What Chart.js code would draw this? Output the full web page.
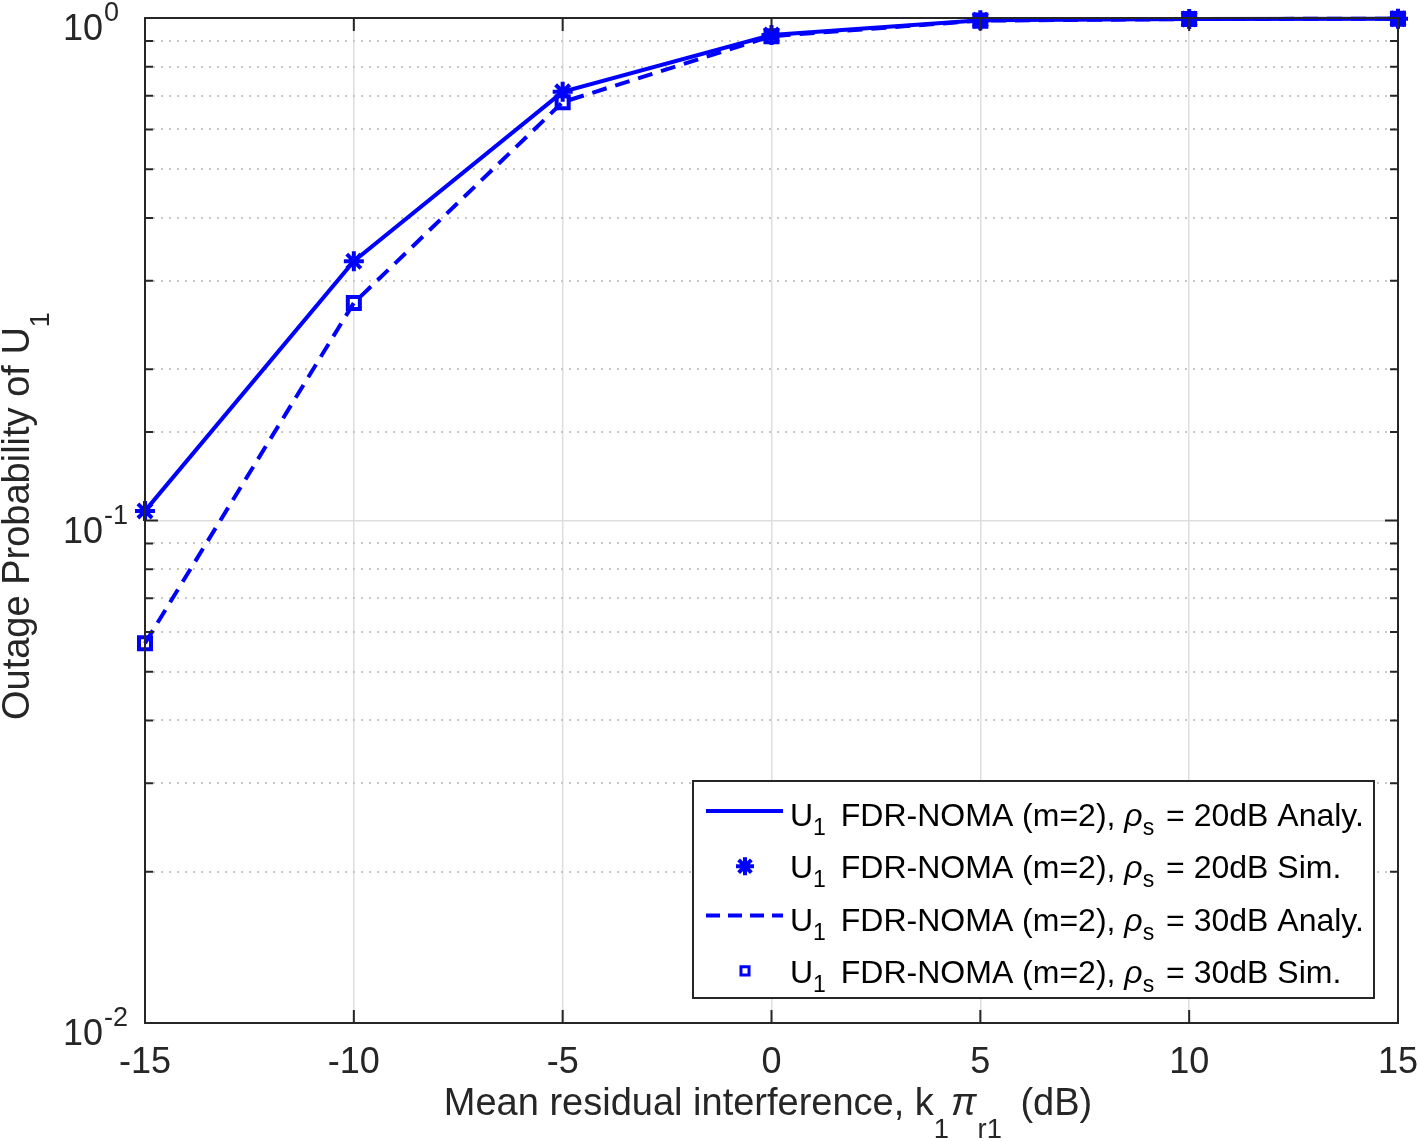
<!DOCTYPE html>
<html>
<head>
<meta charset="utf-8">
<script src="https://cdn.jsdelivr.net/npm/chart.js@4/dist/chart.umd.min.js"></script>
<style>
  html, body { margin: 0; padding: 0; background: #fff; }
  #wrap { width: 1418px; height: 1141px; }
</style>
</head>
<body>
<div id="wrap"><canvas id="chart" width="1418" height="1141"></canvas></div>
<script>
// valori
const xValues = [-15, -10, -5, 0, 5, 10, 15];
const analy20 = [0.1045, 0.328, 0.713, 0.925, 0.99, 0.995, 0.997];
const sim20 = [0.1045, 0.328, 0.713, 0.925, 0.99, 0.995, 0.997];
const analy30 = [0.057, 0.271, 0.68, 0.92, 0.988, 0.995, 0.997];
const sim30 = [0.057, 0.271, 0.68, 0.92, 0.988, 0.995, 0.997];
const xTicks = [-15, -10, -5, 0, 5, 10, 15];
const yDecades = [0.01, 0.1, 1];
const yDecadeExp = ['-2', '-1', '0'];

const blue = '#0000ff';
const ink = '#262626';
const font = '"Liberation Sans", Arial, sans-serif';

const pts = arr => arr.map((v, i) => ({ x: xValues[i], y: v }));
const isMajor = v => Math.abs(Math.log10(v) - Math.round(Math.log10(v))) < 1e-6;

// testo con pedici / corsivo, y = linea di base
function richWidth(ctx, parts, size) {
    let w = 0;
    parts.forEach(p => {
        const s = p.sub ? size * 0.72 : size;
        ctx.font = (p.italic ? 'italic ' : '') + s + 'px ' + font;
        w += ctx.measureText(p.t).width + (p.gap || 0);
    });
    return w;
}
function drawRich(ctx, x, y, parts, size, subDrop) {
    ctx.textBaseline = 'alphabetic';
    ctx.textAlign = 'left';
    parts.forEach(p => {
        const s = p.sub ? size * 0.72 : size;
        ctx.font = (p.italic ? 'italic ' : '') + s + 'px ' + font;
        ctx.fillText(p.t, x, y + (p.sub ? subDrop : 0));
        x += ctx.measureText(p.t).width + (p.gap || 0);
    });
}

const legendItems = [
    { kind: 'line', dash: [], label: '20dB Analy.' },
    { kind: 'star', label: '20dB Sim.' },
    { kind: 'line', dash: [14, 8], label: '30dB Analy.' },
    { kind: 'rect', label: '30dB Sim.' }
];

const decorPlugin = {
    id: 'decor',
    afterDraw(chart) {
        const ctx = chart.ctx;
        const a = chart.chartArea;
        const xs = chart.scales.x, ys = chart.scales.y;
        ctx.save();
        ctx.fillStyle = ink;
        ctx.strokeStyle = ink;
        ctx.lineWidth = 2;
        ctx.setLineDash([]);

        // ticks interni
        ctx.beginPath();
        xTicks.forEach(t => {
            const px = xs.getPixelForValue(t);
            ctx.moveTo(px, a.bottom); ctx.lineTo(px, a.bottom - 13);
            ctx.moveTo(px, a.top); ctx.lineTo(px, a.top + 13);
        });
        ys.ticks.forEach(t => {
            const py = ys.getPixelForValue(t.value);
            const len = isMajor(t.value) ? 13 : 8;
            ctx.moveTo(a.left, py); ctx.lineTo(a.left + len, py);
            ctx.moveTo(a.right, py); ctx.lineTo(a.right - len, py);
        });
        ctx.stroke();
        ctx.strokeRect(a.left, a.top, a.right - a.left, a.bottom - a.top);

        // etichette asse x
        ctx.font = '36px ' + font;
        ctx.textAlign = 'center';
        ctx.textBaseline = 'alphabetic';
        xTicks.forEach(t => ctx.fillText(String(t), xs.getPixelForValue(t), a.bottom + 50));

        // etichette asse y (10^n)
        yDecades.forEach((v, i) => {
            const py = ys.getPixelForValue(v);
            ctx.font = '27px ' + font;
            ctx.textAlign = 'left';
            ctx.fillText(yDecadeExp[i], 104, py + 3);
            ctx.font = '36px ' + font;
            ctx.textAlign = 'right';
            ctx.fillText('10', 103, py + 22);
        });

        // titolo asse x
        const xt = [
            { t: 'Mean residual interference, k' }, { t: '1', sub: true, gap: 2 },
            { t: '\u03c0', italic: true, gap: 1 }, { t: 'r1', sub: true, gap: 8 }, { t: ' (dB)' }
        ];
        const xw = richWidth(ctx, xt, 38);
        ctx.fillStyle = ink;
        drawRich(ctx, 768 - xw / 2, 1115, xt, 38, 23);

        // titolo asse y
        ctx.save();
        ctx.translate(29, 516);
        ctx.rotate(-Math.PI / 2);
        const yt = [{ t: 'Outage Probability of U' }, { t: '1', sub: true }];
        const yw = richWidth(ctx, yt, 38);
        drawRich(ctx, -yw / 2, 0, yt, 38, 20);
        ctx.restore();

        // legenda
        ctx.fillStyle = '#fff';
        ctx.fillRect(693, 781, 681, 217);
        ctx.strokeStyle = ink;
        ctx.lineWidth = 2;
        ctx.strokeRect(693, 781, 681, 217);
        legendItems.forEach((it, i) => {
            const cy = 813 + i * 52.3;
            ctx.strokeStyle = blue;
            ctx.fillStyle = '#fff';
            if (it.kind === 'line') {
                ctx.lineWidth = 4;
                ctx.setLineDash(it.dash);
                ctx.beginPath();
                ctx.moveTo(706, cy - 2); ctx.lineTo(783, cy - 2);
                ctx.stroke();
                ctx.setLineDash([]);
            } else if (it.kind === 'star') {
                ctx.lineWidth = 4;
                Chart.helpers.drawPoint(ctx, { pointStyle: 'star', radius: 9, borderWidth: 4, rotation: 0 }, 745, cy + 1);
            } else {
                ctx.lineWidth = 3;
                Chart.helpers.drawPoint(ctx, { pointStyle: 'rect', radius: 5.7, borderWidth: 3, rotation: 0 }, 745, cy + 1);
            }
            ctx.fillStyle = '#000';
            drawRich(ctx, 790, cy + 13, [
                { t: 'U' }, { t: '1', sub: true, gap: 6 }, { t: ' FDR-NOMA (m=2), ' },
                { t: '\u03c1', italic: true }, { t: 's', sub: true, gap: 3 }, { t: ' = ' + it.label }
            ], 32, 9);
        });
        ctx.restore();
    }
};

const ctx = document.getElementById('chart').getContext('2d');
new Chart(ctx, {
    type: 'scatter',
    data: {
        datasets: [
            { label: 'analy20', data: pts(analy20), showLine: true, borderColor: blue, borderWidth: 4, pointRadius: 0, clip: false },
            { label: 'analy30', data: pts(analy30), showLine: true, borderColor: blue, borderWidth: 4, borderDash: [15, 9], pointRadius: 0, clip: false },
            { label: 'sim20', data: pts(sim20), showLine: false, pointStyle: 'star', pointRadius: 10, pointBorderWidth: 4, borderColor: blue, backgroundColor: blue, clip: false },
            { label: 'sim30', data: pts(sim30), showLine: false, pointStyle: 'rect', pointRadius: 8.5, pointBorderWidth: 4, borderColor: blue, backgroundColor: '#fff', clip: false }
        ]
    },
    options: {
        responsive: false,
        animation: false,
        events: [],
        layout: { padding: { top: 18, right: 20, left: 0, bottom: 0 } },
        plugins: { legend: { display: false }, tooltip: { enabled: false } },
        scales: {
            x: {
                type: 'linear', min: -15, max: 15,
                ticks: { stepSize: 5, display: false },
                grid: { color: '#dedede', lineWidth: 1.5, drawTicks: false },
                border: { display: false },
                afterFit: s => { s.height = 118; }
            },
            y: {
                type: 'logarithmic', min: 0.01, max: 1,
                ticks: { display: false },
                grid: {
                    drawTicks: false,
                    color: c => isMajor(c.tick.value) ? '#dedede' : '#c8c8c8',
                    lineWidth: c => isMajor(c.tick.value) ? 1.5 : 2
                },
                border: { display: false, dash: c => (c.tick && !isMajor(c.tick.value)) ? [2, 6] : [] },
                afterFit: s => { s.width = 145; }
            }
        }
    },
    plugins: [decorPlugin]
});
</script>
</body>
</html>
